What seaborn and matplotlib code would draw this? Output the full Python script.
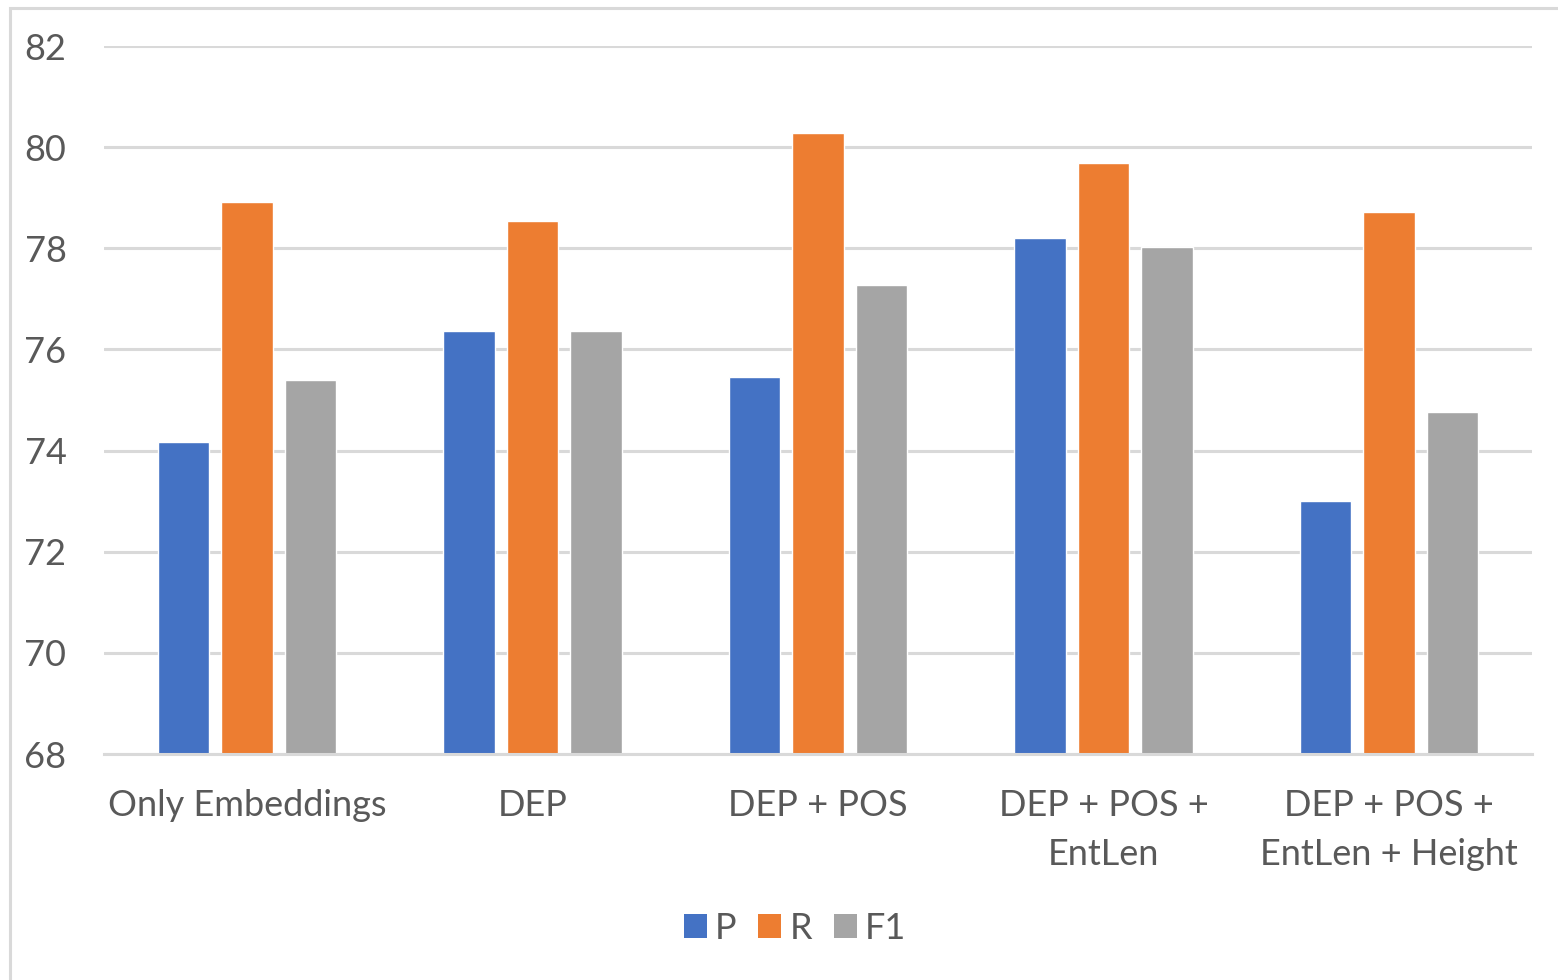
import matplotlib
matplotlib.use("Agg")
import matplotlib.pyplot as plt
import seaborn as sns
import pandas as pd
from matplotlib.patches import Rectangle, Patch

# Feature configurations and scores
categories = ["Only Embeddings", "DEP", "DEP + POS", "DEP + POS +\nEntLen",
              "DEP + POS +\nEntLen + Height"]
p_scores = [74.17, 76.37, 75.45, 78.20, 73.00]
r_scores = [78.92, 78.53, 80.27, 79.68, 78.72]
f1_scores = [75.40, 76.37, 77.28, 78.02, 74.76]
series_names = ["P", "R", "F1"]
colors = ["#4472C4", "#ED7D31", "#A5A5A5"]
y_ticks = [68, 70, 72, 74, 76, 78, 80, 82]

df = pd.DataFrame({
    "config": categories * 3,
    "metric": [s for s in series_names for _ in categories],
    "score": p_scores + r_scores + f1_scores,
})

sns.set_theme(style="white")
plt.rcParams["font.family"] = ["Lato", "DejaVu Sans"]
text_color = "#595959"
grid_color = "#D9D9D9"
font_size = 26

fig = plt.figure(figsize=(15.58, 9.8), dpi=100)
ax = fig.add_axes([104 / 1558, 1 - 754 / 980, 1428 / 1558, 708 / 980])

sns.barplot(data=df, x="config", y="score", hue="metric", hue_order=series_names,
            palette=colors, width=0.667, gap=0.19, saturation=1, ax=ax,
            legend=False, errorbar=None)

ax.set_ylim(68, 82)
ax.set_xlim(-0.5, len(categories) - 0.5)
ax.set_yticks(y_ticks)
ax.set_yticklabels([str(t) for t in y_ticks])
ax.yaxis.grid(True, color=grid_color, linewidth=2.2)
ax.set_axisbelow(True)
for side in ["left", "right", "top"]:
    ax.spines[side].set_visible(False)
ax.spines["bottom"].set_color(grid_color)
ax.spines["bottom"].set_linewidth(2.2)
ax.spines["bottom"].set_zorder(3)
ax.tick_params(axis="both", length=0, labelsize=font_size, colors=text_color)
ax.tick_params(axis="x", pad=25)
ax.tick_params(axis="y", pad=27)
for lbl in ax.get_xticklabels():
    lbl.set_linespacing(1.62)
    lbl.set_va("top")
ax.set_xlabel("")
ax.set_ylabel("")

handles = [Patch(facecolor=c, edgecolor="none") for c in colors]
fig.legend(handles, series_names, loc="center", bbox_to_anchor=(795 / 1558, 1 - 928 / 980),
           ncol=3, frameon=False, fontsize=font_size, labelcolor=text_color,
           handlelength=0.64, handleheight=0.64, handletextpad=0.22, columnspacing=0.6)

# Chart area border
fig.patches.append(Rectangle((10 / 1558, -0.05), 1.2, 1 - 8 / 980 + 0.05,
                             transform=fig.transFigure, fill=False,
                             edgecolor=grid_color, linewidth=2.2))

fig.savefig("out.png", dpi=100, facecolor="white")
